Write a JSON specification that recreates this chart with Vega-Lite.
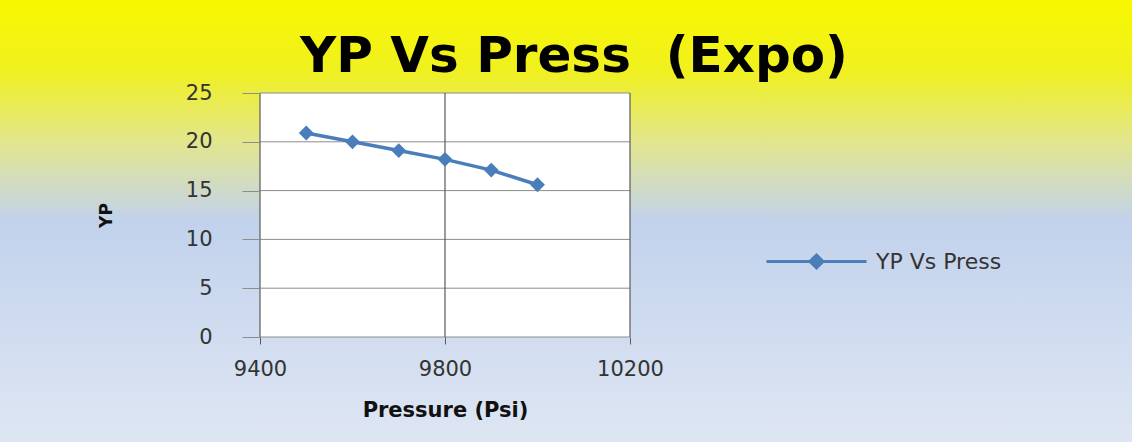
{
  "$schema": "https://vega.github.io/schema/vega-lite/v6.json",
  "width": 1132,
  "height": 442,
  "padding": 0,
  "autosize": {"type": "none"},
  "view": {
    "stroke": null,
    "fill": {
      "gradient": "linear",
      "x1": 0, "y1": 0, "x2": 0, "y2": 1,
      "stops": [
        {"offset": 0, "color": "#f8f800"},
        {"offset": 0.16, "color": "#f0f020"},
        {"offset": 0.32, "color": "#e2e68c"},
        {"offset": 0.43, "color": "#cfdac8"},
        {"offset": 0.5, "color": "#c2d2ec"},
        {"offset": 1, "color": "#dee6f3"}
      ]
    }
  },
  "title": {
    "text": "YP Vs Press \u00a0(Expo)",
    "font": "DejaVu Sans",
    "fontSize": 50,
    "fontWeight": "bold",
    "color": "#000000",
    "anchor": "middle",
    "baseline": "alphabetic",
    "offset": -122,
    "dx": 8
  },
  "datasets": {
    "points": [
      {"Pressure": 9500, "YP": 20.9},
      {"Pressure": 9600, "YP": 20.0},
      {"Pressure": 9700, "YP": 19.1},
      {"Pressure": 9800, "YP": 18.2},
      {"Pressure": 9900, "YP": 17.1},
      {"Pressure": 10000, "YP": 15.6}
    ],
    "hgrid": [{"YP": 0}, {"YP": 5}, {"YP": 10}, {"YP": 15}, {"YP": 20}, {"YP": 25}],
    "vgrid": [{"Pressure": 9400}, {"Pressure": 9800}, {"Pressure": 10200}]
  },
  "layer": [
    {
      "data": {"values": [{}]},
      "mark": {"type": "rect", "fill": "#ffffff"},
      "encoding": {
        "x": {"datum": 9400, "type": "quantitative"},
        "x2": {"datum": 10200},
        "y": {"datum": 0, "type": "quantitative"},
        "y2": {"datum": 25}
      }
    },
    {
      "data": {"name": "hgrid"},
      "mark": {"type": "rule", "stroke": "#8c8c8c", "strokeWidth": 1},
      "encoding": {
        "y": {"field": "YP", "type": "quantitative"},
        "x": {"datum": 9400, "type": "quantitative"},
        "x2": {"datum": 10200}
      }
    },
    {
      "data": {"name": "vgrid"},
      "mark": {"type": "rule", "stroke": "#5a5a5a", "strokeWidth": 1.2},
      "encoding": {
        "x": {"field": "Pressure", "type": "quantitative"},
        "y": {"datum": 0, "type": "quantitative"},
        "y2": {"datum": 25}
      }
    },
    {
      "data": {"name": "points"},
      "mark": {
        "type": "line",
        "strokeWidth": 3.5,
        "point": {"shape": "diamond", "size": 220, "filled": true}
      },
      "encoding": {
        "x": {
          "field": "Pressure",
          "type": "quantitative",
          "scale": {"domain": [8837.84, 11285.41], "nice": false, "zero": false},
          "axis": {
            "title": "Pressure (Psi)",
            "values": [9400, 9800, 10200],
            "format": "d",
            "offset": -105,
            "grid": false,
            "domain": false,
            "ticks": true,
            "tickSize": 7,
            "tickColor": "#5a5a5a",
            "labelFont": "DejaVu Sans",
            "labelFontSize": 21,
            "labelColor": "#333333",
            "labelPadding": 14,
            "titleFont": "DejaVu Sans",
            "titleFontSize": 21,
            "titleFontWeight": "bold",
            "titleColor": "#111111",
            "titleX": 445,
            "titlePadding": 20,
            "zindex": 1
          }
        },
        "y": {
          "field": "YP",
          "type": "quantitative",
          "scale": {"domain": [-10.758, 34.529], "nice": false, "zero": false},
          "axis": {
            "title": "YP",
            "values": [0, 5, 10, 15, 20, 25],
            "format": "d",
            "offset": -260,
            "grid": false,
            "domain": false,
            "ticks": true,
            "tickSize": 18,
            "tickColor": "#8c8c8c",
            "labelFont": "DejaVu Sans",
            "labelFontSize": 21,
            "labelColor": "#333333",
            "labelPadding": 30,
            "titleFont": "DejaVu Sans",
            "titleFontSize": 17,
            "titleFontWeight": "bold",
            "titleColor": "#111111",
            "titleY": 215,
            "titlePadding": 70,
            "zindex": 1
          }
        },
        "color": {
          "datum": "YP Vs Press",
          "type": "nominal",
          "scale": {"range": ["#4a7ebb"]},
          "legend": {
            "orient": "none",
            "legendX": 765,
            "legendY": 210,
            "title": null,
            "padding": 0,
            "symbolType": "M-1,0L1,0M0,-0.13L0.13,0L0,0.13L-0.13,0Z",
            "symbolSize": 10000,
            "symbolStrokeWidth": 3,
            "symbolStrokeColor": "#5a85c0",
            "symbolFillColor": "#4a7ebb",
            "labelFont": "DejaVu Sans",
            "labelFontSize": 22,
            "labelColor": "#333333",
            "labelOffset": 8
          }
        }
      }
    }
  ]
}
